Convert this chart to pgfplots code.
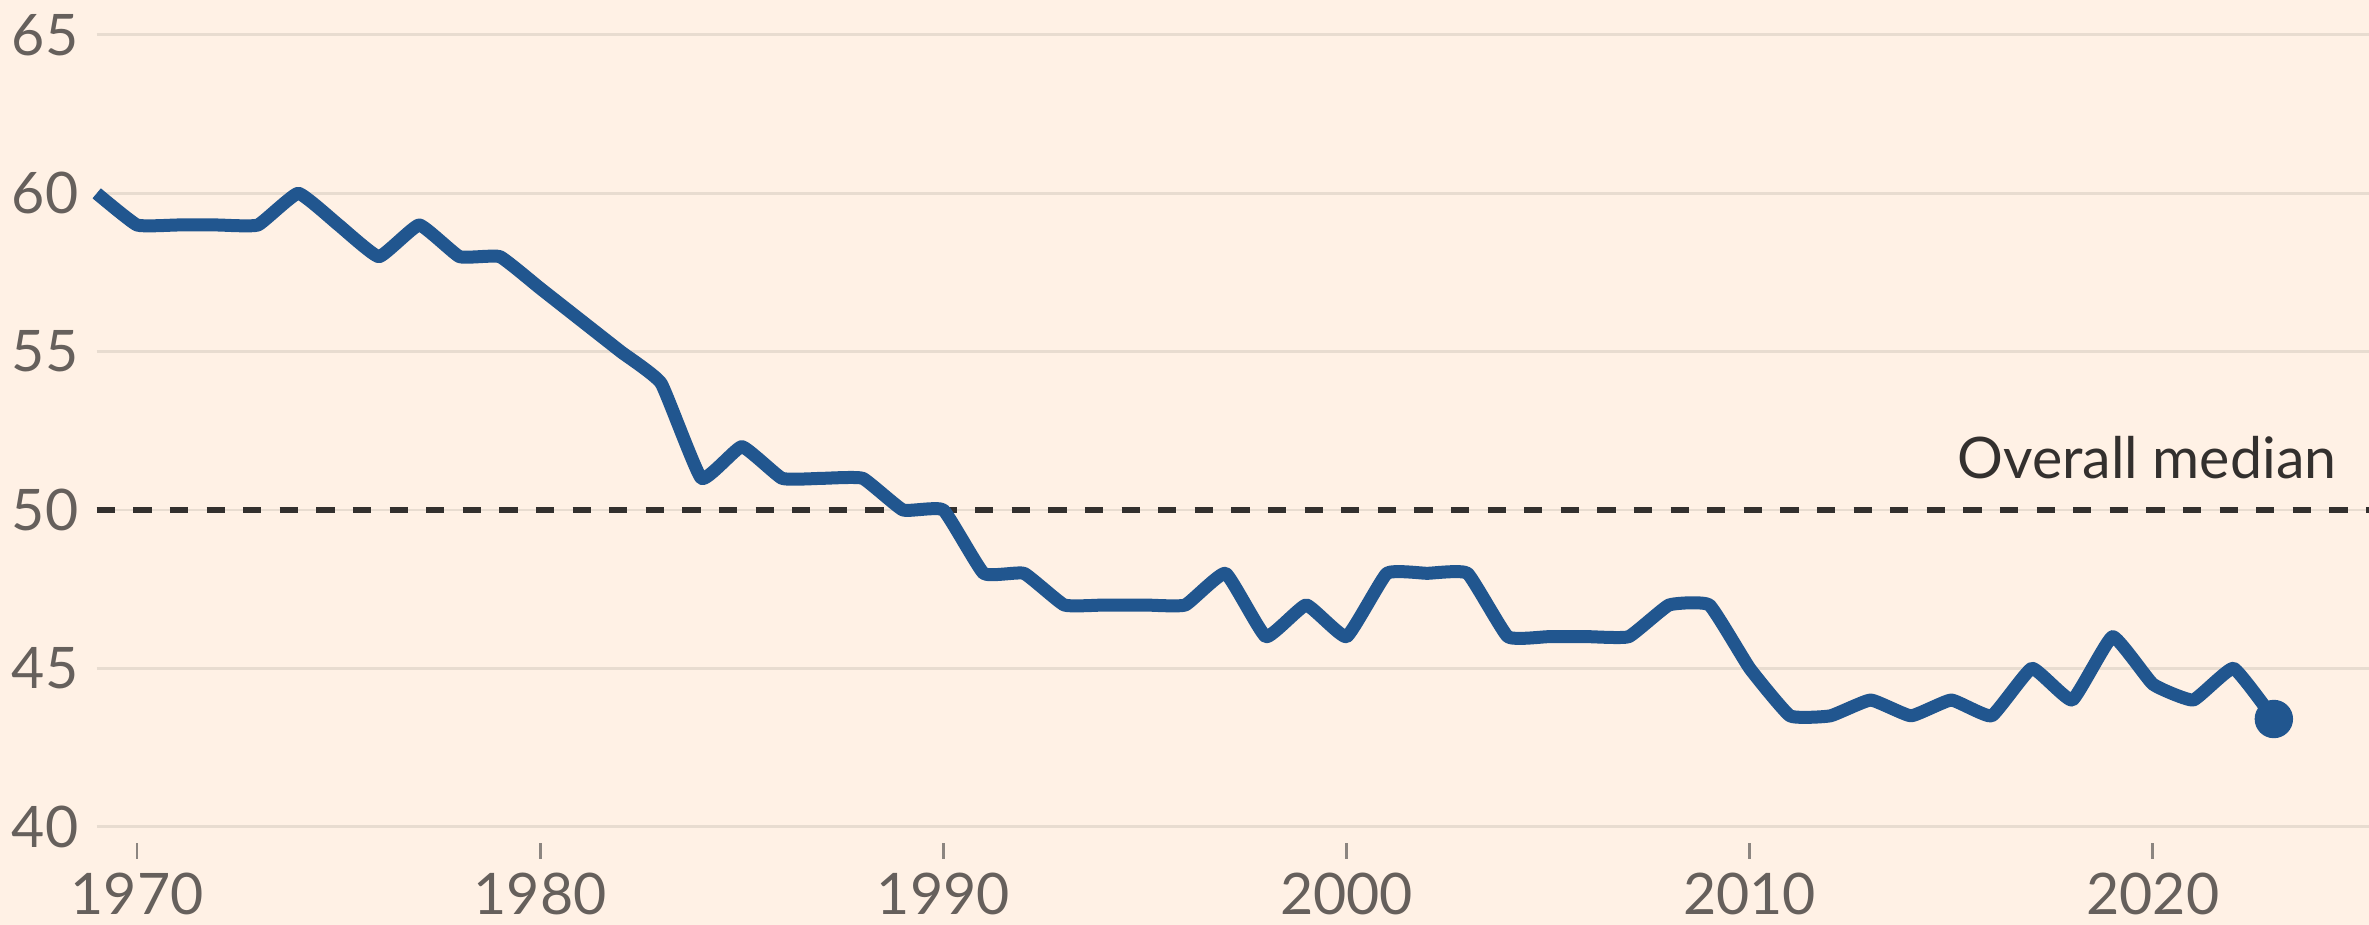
\documentclass[border=0pt]{standalone}
\usepackage{fontspec}
\setmainfont{Lato}
\usepackage{pgfplots}
\pgfplotsset{compat=1.18}
\definecolor{paper}{HTML}{FFF1E5}
\definecolor{gridc}{HTML}{E8DCD0}
\definecolor{linec}{HTML}{21568F}
\definecolor{darkt}{HTML}{33302E}
\definecolor{tickt}{HTML}{66605C}
\definecolor{tickc}{HTML}{8C8580}
\begin{document}
\begin{tikzpicture}
\fill[paper] (-9.67mm,-9.83mm) rectangle (227.23mm,82.67mm);
\useasboundingbox (-9.67mm,-9.83mm) rectangle (227.23mm,82.67mm);
\begin{axis}[
  scale only axis, width=227.23mm, height=79.17mm,
  xmin=1969, xmax=2025.36, ymin=40, ymax=65,
  axis line style={draw=none},
  ymajorgrids, grid style={gridc, line width=0.85pt},
  ytick={40,45,...,65}, yticklabels={40,45,50,55,60,65},
  xtick={1970,1980,...,2020}, xticklabels={1970,1980,1990,2000,2010,2020},
  tick pos=left,
  tick align=outside,
  major tick length=1.6mm,
  xtick style={draw=tickc, line width=0.8pt, yshift=-1.63mm},
  ytick style={draw=none},
  ticklabel style={font=\fontsize{16.3}{18}\selectfont, text=tickt},
  xticklabel style={anchor=north, inner sep=0pt, yshift=-3.0mm},
  yticklabel style={anchor=east, inner sep=0pt, xshift=-1.77mm+1.6mm},
  clip=false,
]
\addplot[darkt, line width=1.6pt, dash pattern=on 1.83mm off 1.83mm, forget plot] coordinates {(1969,50) (2025.36,50)};
\addplot[linec, line width=3.7pt, smooth, tension=0.22, line join=round] table {
x y
1969 60
1970 59
1971 59
1972 59
1973 59
1974 60
1975 59
1976 58
1977 59
1978 58
1979 58
1980 57
1981 56
1982 55
1983 54
1984 51
1985 52
1986 51
1987 51
1988 51
1989 50
1990 50
1991 48
1992 48
1993 47
1994 47
1995 47
1996 47
1997 48
1998 46
1999 47
2000 46
2001 48
2002 48
2003 48
2004 46
2005 46
2006 46
2007 46
2008 47
2009 47
2010 45
2011 43.5
2012 43.5
2013 44
2014 43.5
2015 44
2016 43.5
2017 45
2018 44
2019 46
2020 44.5
2021 44
2022 45
2023 43.4
};
\addplot[linec, only marks, mark=*, mark size=1.85mm] coordinates {(2023,43.4)};
\node[anchor=base east, text=darkt, font=\fontsize{16.3}{18}\selectfont, inner sep=0pt] at (axis cs:2024.57,51.01) {Overall median};
\end{axis}
\end{tikzpicture}
\end{document}
